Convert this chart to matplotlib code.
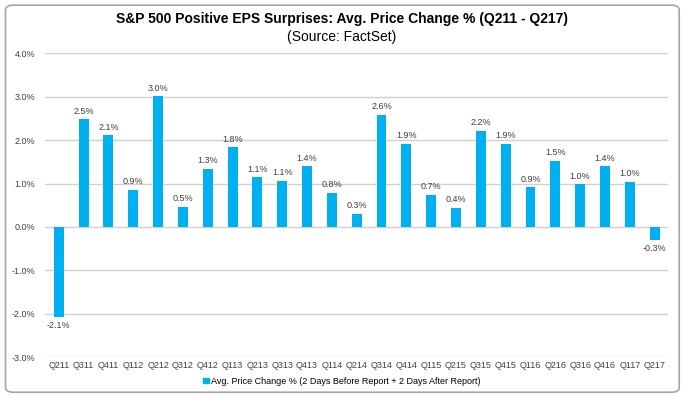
import matplotlib.pyplot as plt
import numpy as np
from matplotlib.patches import FancyBboxPatch, Patch

plt.rcParams['font.family'] = ['Liberation Sans', 'DejaVu Sans']

quarters = ['Q211', 'Q311', 'Q411', 'Q112', 'Q212', 'Q312', 'Q412', 'Q113', 'Q213',
            'Q313', 'Q413', 'Q114', 'Q214', 'Q314', 'Q414', 'Q115', 'Q215', 'Q315',
            'Q415', 'Q116', 'Q216', 'Q316', 'Q416', 'Q117', 'Q217']
price_change = [-2.07, 2.48, 2.11, 0.86, 3.01, 0.47, 1.34, 1.83, 1.14, 1.06, 1.40,
                0.79, 0.31, 2.58, 1.92, 0.74, 0.44, 2.21, 1.92, 0.92, 1.53, 0.98,
                1.40, 1.04, -0.29]
yticks = [-3, -2, -1, 0, 1, 2, 3, 4]

blue = '#00B0F0'

fig = plt.figure(figsize=(6.84, 3.97), dpi=100)
ax = fig.add_axes([0.066, 0.1, 0.911, 0.766])

# outer frame
frame = FancyBboxPatch((0.008, 0.012), 0.985, 0.975, boxstyle='round,pad=0,rounding_size=0.012',
                       transform=fig.transFigure, fill=False, edgecolor='#a6a6a6', lw=1.2)
fig.patches.append(frame)

x = np.arange(len(quarters))
ax.bar(x, price_change, width=0.4, color=blue, zorder=3)

for xi, v in zip(x, price_change):
    if v >= 0:
        ax.text(xi, v + 0.08, f'{v:.1f}%', ha='center', va='bottom', fontsize=6.5, color='#404040')
    else:
        ax.text(xi, v - 0.1, f'{v:.1f}%', ha='center', va='top', fontsize=6.5, color='#404040')

ax.set_ylim(-3, 4)
ax.set_xlim(-0.55, len(quarters) - 0.45)
ax.set_yticks(yticks)
ax.set_yticklabels([f'{t:.1f}%' for t in yticks])
ax.set_xticks(x)
ax.set_xticklabels(quarters)
ax.tick_params(axis='both', length=0, labelsize=6.5, colors='#404040')
ax.tick_params(axis='y', pad=7)
ax.tick_params(axis='x', pad=3)
ax.grid(axis='y', color='#d0d0d0', lw=1, zorder=0)
for s in ax.spines.values():
    s.set_visible(False)

fig.text(0.5, 0.952, 'S&P 500 Positive EPS Surprises: Avg. Price Change % (Q211 - Q217)',
         ha='center', va='center', fontsize=10, fontweight='bold')
fig.text(0.5, 0.908, '(Source: FactSet)', ha='center', va='center', fontsize=10)

handle = Patch(color=blue)
fig.legend([handle], ['Avg. Price Change % (2 Days Before Report + 2 Days After Report)'],
           loc='center', bbox_to_anchor=(0.5, 0.04), frameon=False, fontsize=6.5,
           handlelength=0.6, handleheight=0.6, handletextpad=0.3)

fig.savefig('out.png', dpi=100)
